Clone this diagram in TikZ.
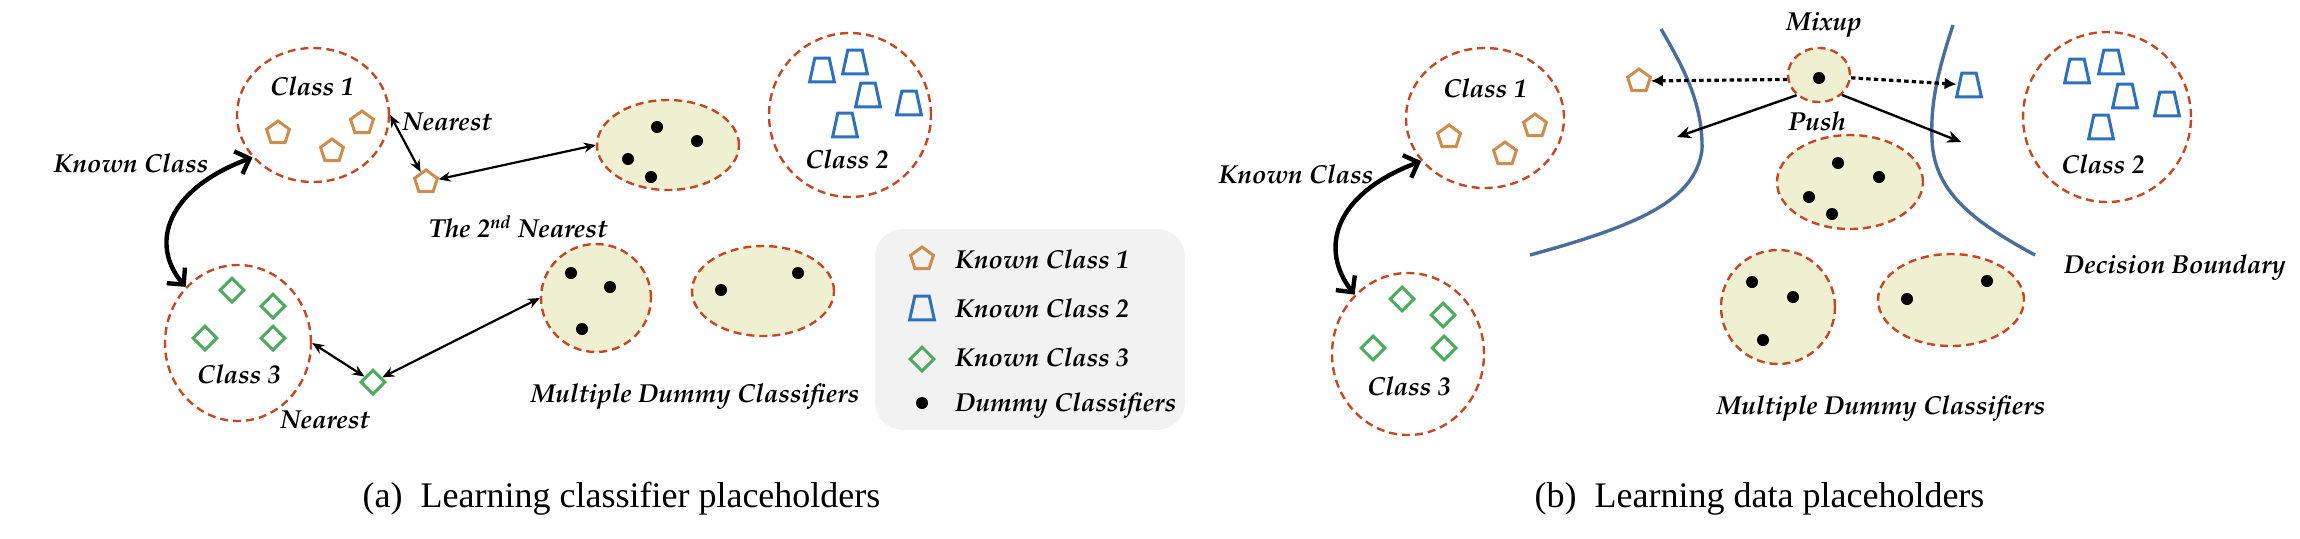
\documentclass[tikz,border=0pt]{standalone}
\usepackage[T1]{fontenc}
\usepackage{fontspec}
\usetikzlibrary{shapes.geometric,arrows.meta}
\newfontfamily\capfont{Liberation Serif}
\newcommand\lblfont{\fontencoding{T1}\fontfamily{ppl}\fontseries{b}\fontshape{it}\fontsize{13}{15}\selectfont}
\definecolor{dred}{RGB}{195,72,35}
\definecolor{beige}{RGB}{239,239,209}
\definecolor{porange}{RGB}{207,140,76}
\definecolor{tblue}{RGB}{44,112,190}
\definecolor{dgreen}{RGB}{76,171,92}
\definecolor{bblue}{RGB}{74,110,155}
\definecolor{lgray}{RGB}{242,242,242}
\tikzset{
 cls/.style={ellipse, draw=dred, dash pattern=on 4pt off 2.5pt, line width=1.2pt, inner sep=0pt},
 dum/.style={cls, fill=beige},
 pent/.style={regular polygon, regular polygon sides=5, draw=porange, line width=1.5pt, minimum size=12pt, inner sep=0pt},
 trapbox/.style={rectangle, draw=none, minimum width=12pt, minimum height=11.5pt, inner sep=0pt},
 trapline/.style={draw=tblue, line width=1.5pt, line join=miter},
 dia/.style={diamond, draw=dgreen, line width=1.5pt, minimum width=12.5pt, minimum height=12.5pt, inner sep=0pt},
 dot/.style={circle, fill=black, minimum size=6pt, inner sep=0pt},
 lab/.style={font=\lblfont, inner sep=0pt, anchor=base},
 leglab/.style={font=\lblfont, inner sep=0pt, anchor=base west},
 caplab/.style={font=\capfont\fontsize{18}{22}\selectfont, inner sep=0pt, anchor=base},
 near/.style={{Stealth[length=6pt,width=5pt]}-{Stealth[length=6pt,width=5pt]}, line width=1.1pt},
 known/.style={{Straight Barb[length=6pt,width=12pt]}-{Straight Barb[length=6pt,width=12pt]}, line width=2.2pt},
 mix/.style={-{Latex[length=6pt,width=6pt]}, line width=1.6pt, dash pattern=on 2.2pt off 1.6pt},
 push/.style={-{Stealth[length=7pt,width=6pt]}, line width=1.2pt},
 bound/.style={draw=bblue, line width=1.7pt},
 legbox/.style={rectangle, fill=lgray, rounded corners=14pt, inner sep=0pt},
}
% trapezoid: invisible named box, outline drawn from its anchors
\newcommand\trapnode[2]{%
  \node[trapbox] (#1) at #2 {};
  \draw[trapline] (#1.south west) -- (#1.south east) -- ([xshift=-2.6pt]#1.north east) -- ([xshift=2.6pt]#1.north west) -- cycle;}
\begin{document}
\begin{tikzpicture}[x=0.5pt,y=-0.5pt]
\useasboundingbox (0,0) rectangle (2300,538);
% ================= (a) =================
\node[cls, minimum width=76pt, minimum height=67pt] (c1a) at (313,115) {};
\node[lab] (c1alab) at (312,95) {Class 1};
\foreach \p [count=\i] in {(278,133),(332,151),(362,123)} \node[pent] (c1ap\i) at \p {};
\node[cls, minimum width=73pt, minimum height=78pt] (c3a) at (238,343) {};
\foreach \p [count=\i] in {(232,290),(273,306),(205,338),(273,338)} \node[dia] (c3ad\i) at \p {};
\node[lab] (c3alab) at (239,383) {Class 3};
\node[cls, minimum width=81pt, minimum height=82pt] (c2a) at (850,115) {};
\foreach \p [count=\i] in {(822,70),(855,62),(868,95),(909,103),(845,125)} {\trapnode{c2at\i}{\p}}
\node[lab] (c2alab) at (847,168) {Class 2};
\node[dum, minimum width=71pt, minimum height=45pt] (e1) at (668,145) {};
\foreach \p [count=\i] in {(657,127),(697,141),(628,159),(651,177)} \node[dot] (e1d\i) at \p {};
\node[dum, minimum width=55pt, minimum height=54pt] (e2) at (596,298) {};
\foreach \p [count=\i] in {(571,273),(610,287),(582,329)} \node[dot] (e2d\i) at \p {};
\node[dum, minimum width=71pt, minimum height=45pt] (e3) at (763,291) {};
\foreach \p [count=\i] in {(798,273),(721,290)} \node[dot] (e3d\i) at \p {};
\node[pent] (p4) at (426,182) {};
\node[dia] (d5) at (373,382) {};
\node[lab] (knowna) at (131,172) {Known Class};
\node[lab] (neara) at (447,130) {Nearest};
\node[lab] (secnear) at (518,237) {The 2\textsuperscript{nd} Nearest};
\node[lab] (nearb) at (325,428) {Nearest};
\node[lab] (mdca) at (695,402) {Multiple Dummy Classifiers};
\draw[near] (c1a.east) -- (p4);
\draw[near] (p4) -- (e1.west);
\draw[near] (c3a.east) -- (d5);
\draw[near] (d5) -- (e2.west);
\draw[known] (c3a.133) .. controls (150,245) and (165,190) .. (c1a.215);
% legend
\node[legbox, minimum width=155pt, minimum height=100.5pt] (leg) at (1030,329.5) {};
\node[pent] (legp) at (922,259) {};
\trapnode{legt}{(922,308)}
\node[dia] (legd) at (922,359) {};
\node[dot] (legdot) at (922,403) {};
\node[leglab] (legl1) at (955,268) {Known Class 1};
\node[leglab] (legl2) at (955,317) {Known Class 2};
\node[leglab] (legl3) at (955,366) {Known Class 3};
\node[leglab] (legl4) at (955,411) {Dummy Classifiers};
% ================= (b) =================
\draw[bound] (1661,29) .. controls (1685,70) and (1703,105) .. (1702,150) .. controls (1695,200) and (1640,225) .. (1530,255);
\draw[bound] (1953,25) .. controls (1940,65) and (1930,100) .. (1932,140) .. controls (1934,190) and (1970,220) .. (2035,255);
\node[cls, minimum width=79pt, minimum height=70pt] (c1b) at (1485,118) {};
\node[lab] (c1blab) at (1485,97) {Class 1};
\foreach \p [count=\i] in {(1449,137),(1505,154),(1535,126)} \node[pent] (c1bp\i) at \p {};
\node[cls, minimum width=76pt, minimum height=81pt] (c3b) at (1408,354) {};
\foreach \p [count=\i] in {(1402,299),(1443,315),(1373,348),(1444,348)} \node[dia] (c3bd\i) at \p {};
\node[lab] (c3blab) at (1409,395) {Class 3};
\node[lab] (knownb) at (1296,183) {Known Class};
\draw[known] (c3b.132) .. controls (1320,250) and (1332,195) .. (c1b.214);
\node[dum, minimum width=31pt, minimum height=27pt] (m) at (1819,75) {};
\node[dot] (md) at (1819,78) {};
\node[lab] (mixlab) at (1824,30) {Mixup};
\node[lab] (pushlab) at (1817,130) {Push};
\node[pent] (pb) at (1639,81) {};
\trapnode{tb}{(1969,85)}
\draw[mix] (m.188) -- (pb);
\draw[mix] (m.-5) -- (tb);
\coordinate (pl) at (1677,137);
\coordinate (pr) at (1961,142);
\draw[push] (m.222) -- (pl);
\draw[push] (m.319) -- (pr);
\node[dum, minimum width=73pt, minimum height=47pt] (eb1) at (1850,182) {};
\foreach \p [count=\i] in {(1838,163),(1879,177),(1809,197),(1832,214)} \node[dot] (eb1d\i) at \p {};
\node[dum, minimum width=57pt, minimum height=57pt] (eb2) at (1778,307) {};
\foreach \p [count=\i] in {(1752,282),(1793,297),(1763,340)} \node[dot] (eb2d\i) at \p {};
\node[dum, minimum width=73pt, minimum height=46pt] (eb3) at (1951,300) {};
\foreach \p [count=\i] in {(1987,281),(1907,299)} \node[dot] (eb3d\i) at \p {};
\node[cls, minimum width=84pt, minimum height=85pt] (c2b) at (2107,117) {};
\foreach \p [count=\i] in {(2077,71),(2111,62),(2125,96),(2167,104),(2101,127)} {\trapnode{c2bt\i}{\p}}
\node[lab] (c2blab) at (2103,173) {Class 2};
\node[lab] (declab) at (2175,273) {Decision Boundary};
\node[lab] (mdcb) at (1881,414) {Multiple Dummy Classifiers};
% captions
\node[caplab] (capa) at (621.5,507) {(a)\hspace{9pt}Learning classifier placeholders};
\node[caplab] (capb) at (1759.5,507) {(b)\hspace{9pt}Learning data placeholders};
\end{tikzpicture}
\end{document}
